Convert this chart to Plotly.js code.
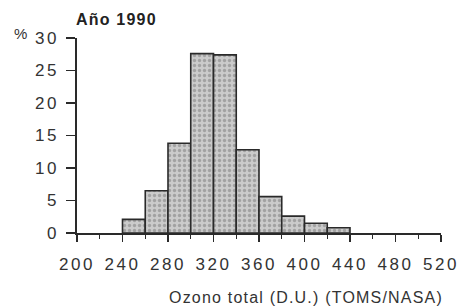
<!DOCTYPE html>
<html>
<head>
<meta charset="utf-8">
<script src="https://cdn.plot.ly/plotly-3.0.1.min.js"></script>
<style>
html,body{margin:0;padding:0;background:#fff;}
#chart{width:461px;height:308px;}
.xtick text,.ytick text{letter-spacing:2.5px;}
.annotation-text{letter-spacing:1.2px;}
</style>
</head>
<body>
<div id="chart"></div>
<script>
// Bin starts (D.U.), bin width 20
var binStart = [240, 260, 280, 300, 320, 340, 360, 380, 400, 420];
var binWidth = 20;
var percent = [2.1, 6.5, 13.8, 27.6, 27.4, 12.8, 5.6, 2.6, 1.5, 0.8];
var xTickVals = [200, 240, 280, 320, 360, 400, 440, 480, 520];
var yTickVals = [0, 5, 10, 15, 20, 25, 30];
var chartTitle = "Año 1990";
var xTitle = "Ozono total (D.U.) (TOMS/NASA)";
var yUnit = "%";

var textColor = "#333";
var fontFam = "Liberation Sans, Arial, sans-serif";

var trace = {
  type: "bar",
  x: binStart,
  y: percent,
  width: binStart.map(function(){return binWidth;}),
  offset: 0,
  marker: {
    color: "#c4c4c4",
    line: {color: "#2a2a2a", width: 1.6},
    pattern: {shape: ".", bgcolor: "#cbcbcb", fgcolor: "#a2a2a2", size: 5, solidity: 0.35, fillmode: "replace"}
  },
  hoverinfo: "none"
};

var layout = {
  width: 461, height: 308,
  margin: {l: 77, r: 20, t: 38, b: 75},
  paper_bgcolor: "#fff", plot_bgcolor: "#fff",
  showlegend: false,
  bargap: 0,
  font: {family: fontFam, color: textColor, size: 17},
  xaxis: {
    range: [200, 520],
    tickvals: xTickVals,
    ticks: "outside", ticklen: 7, tickwidth: 1.6, tickcolor: "#2a2a2a",
    showline: true, linecolor: "#2a2a2a", linewidth: 1.6,
    showgrid: false, zeroline: false,
    ticklabelstandoff: 8,
    tickfont: {size: 17, color: textColor, family: fontFam},
    minor: {dtick: 20, tick0: 200, ticks: "outside", ticklen: 4, tickwidth: 1.4, tickcolor: "#2a2a2a", showgrid: false}
  },
  yaxis: {
    range: [0, 30],
    tickvals: yTickVals,
    ticks: "outside", ticklen: 9, tickwidth: 1.6, tickcolor: "#2a2a2a",
    showline: true, linecolor: "#2a2a2a", linewidth: 1.6,
    showgrid: false, zeroline: false,
    ticklabelstandoff: 4,
    tickfont: {size: 17, color: textColor, family: fontFam}
  },
  annotations: [
    {text: "<b>" + chartTitle + "</b>", xref: "paper", yref: "paper", x: 0, y: 1,
     xanchor: "left", yanchor: "bottom", yshift: 8, xshift: -3, showarrow: false,
     font: {size: 16, color: "#222", family: fontFam}},
    {text: yUnit, xref: "paper", yref: "paper", x: 0, y: 1,
     xanchor: "center", yanchor: "middle", xshift: -56, yshift: 5, showarrow: false,
     font: {size: 15, color: textColor, family: fontFam}},
    {text: xTitle, xref: "paper", yref: "paper", x: 0.629, y: 0,
     xanchor: "center", yanchor: "middle", yshift: -64, showarrow: false,
     font: {size: 16, color: textColor, family: fontFam}}
  ]
};

Plotly.newPlot("chart", [trace], layout, {displayModeBar: false, staticPlot: true});
</script>
</body>
</html>
